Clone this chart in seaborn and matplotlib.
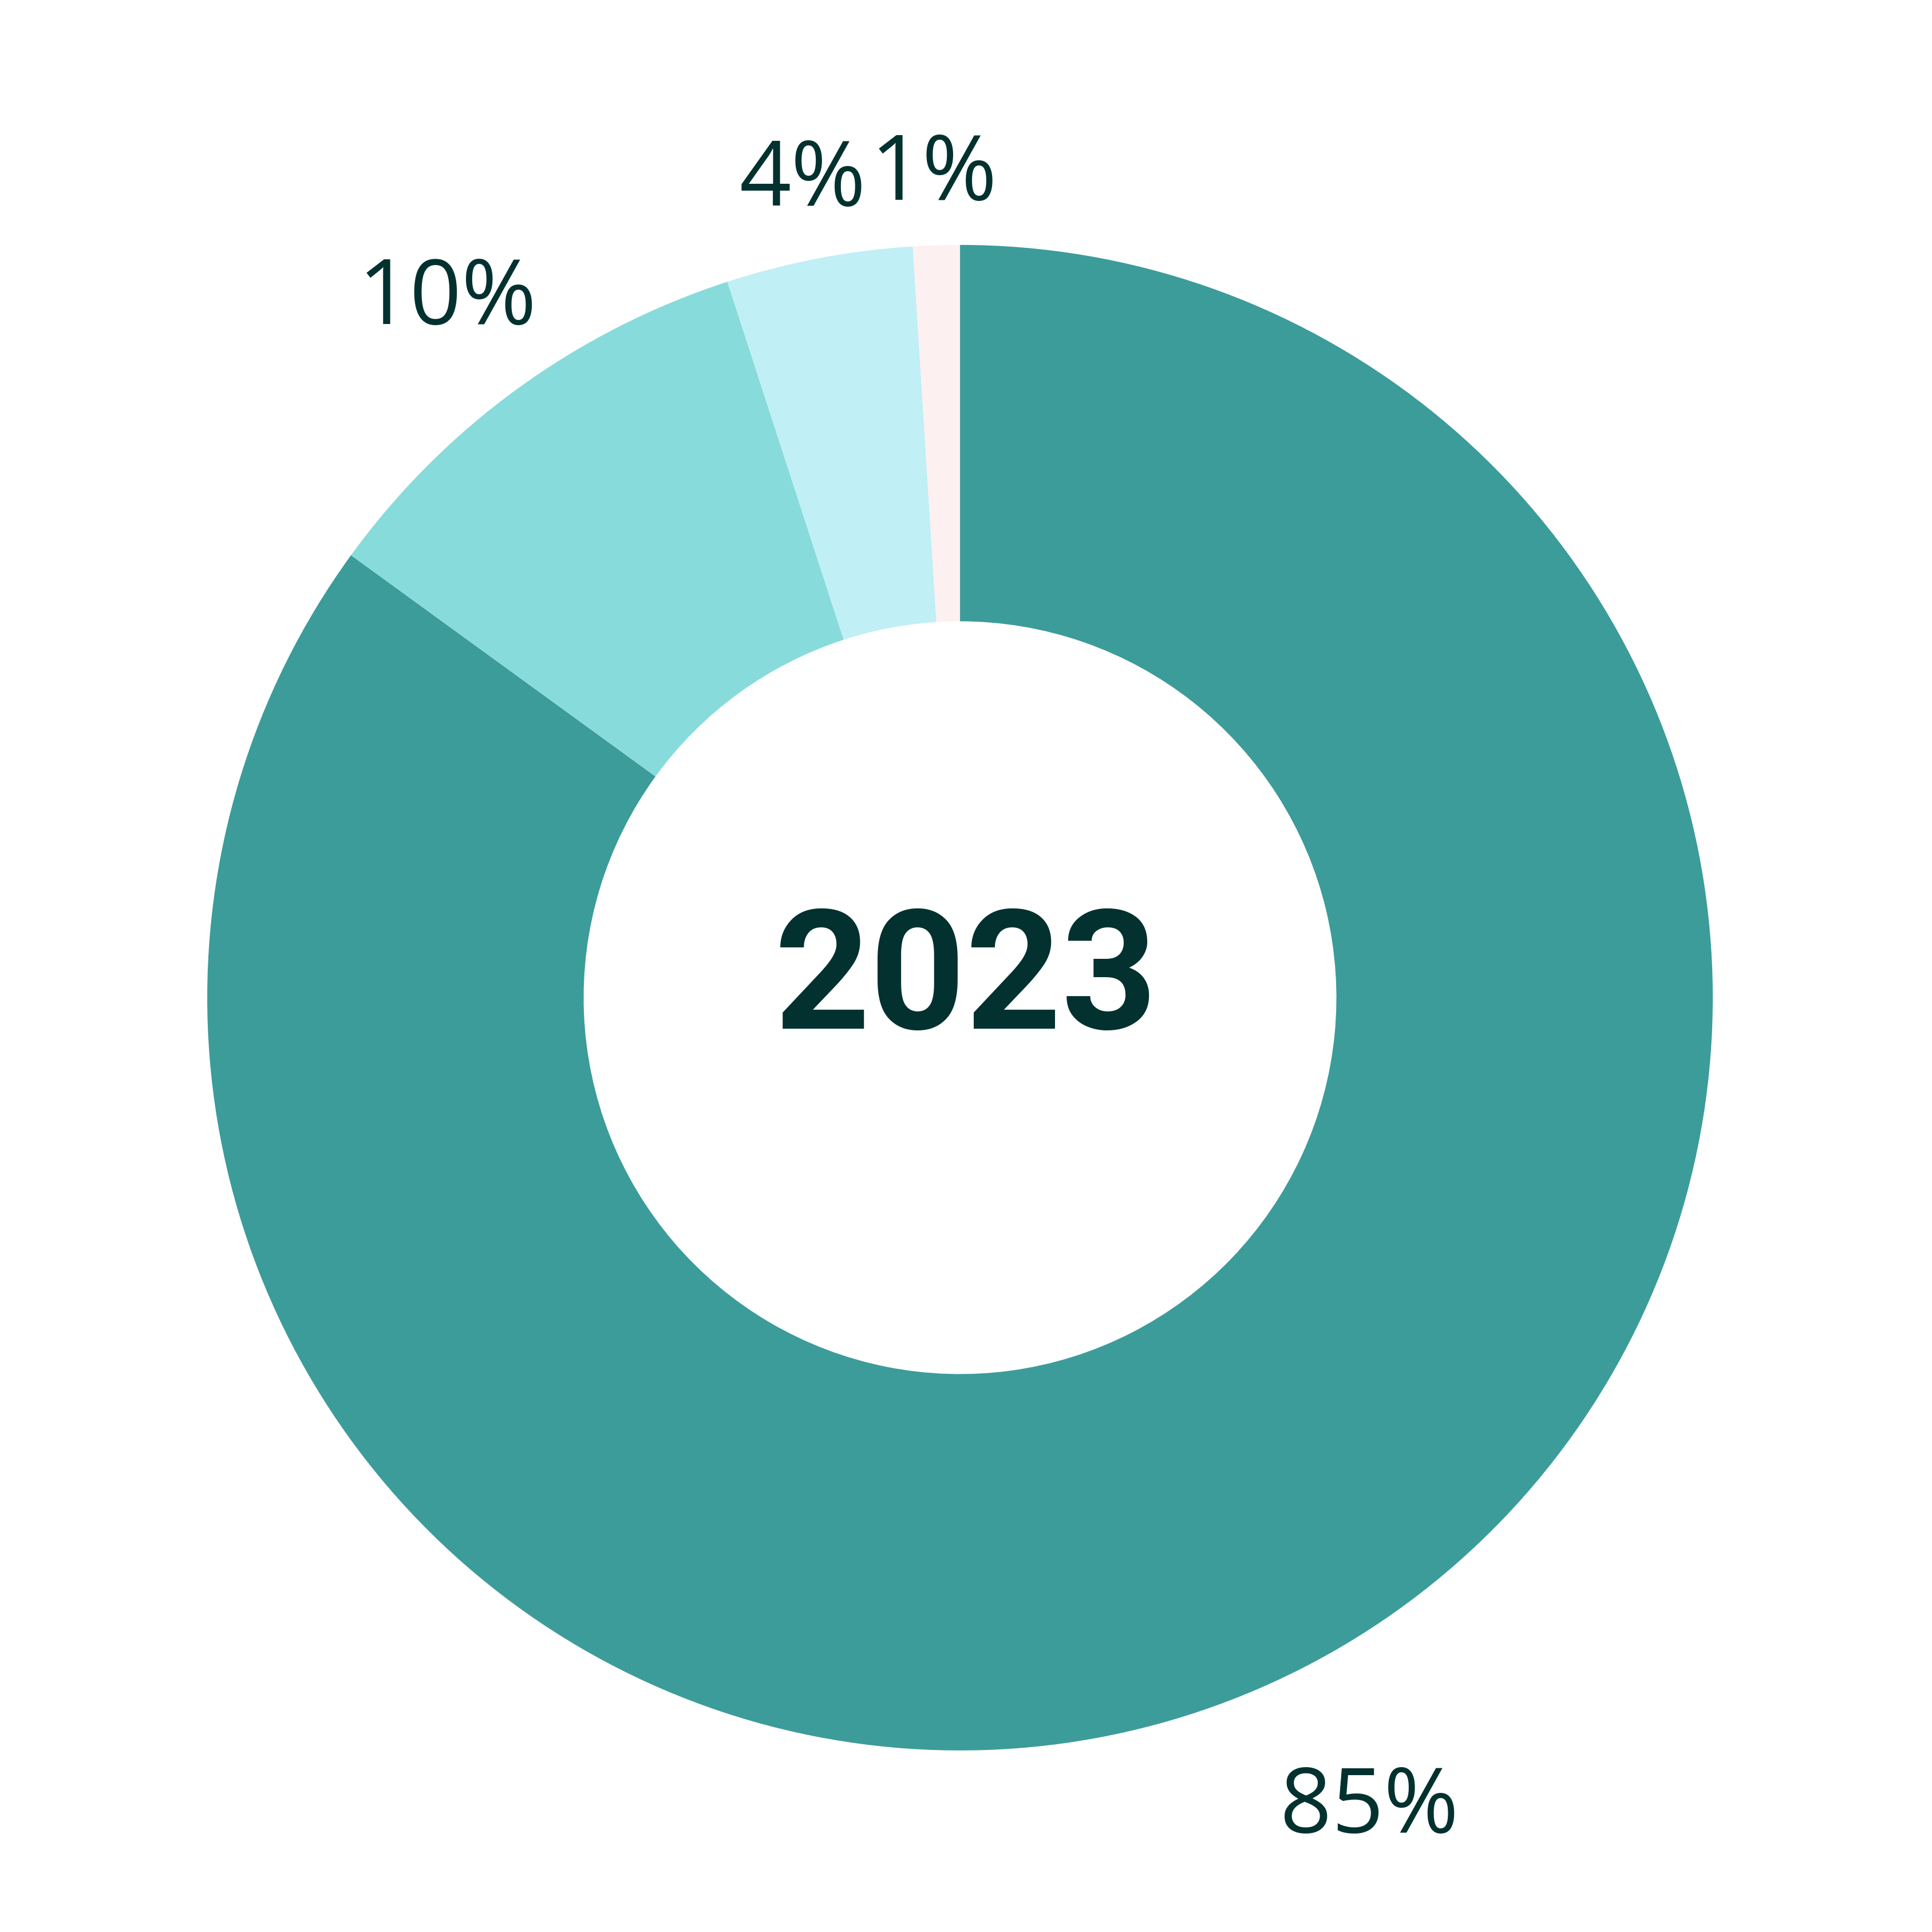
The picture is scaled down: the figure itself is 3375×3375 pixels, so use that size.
"""
Donut chart: 2023 share split (85 / 10 / 4 / 1 %).
"""

import numpy as np
import matplotlib
matplotlib.use('Agg')
import matplotlib.pyplot as plt
import seaborn as sns

# Data
labels = ['85%', '10%', '4%', '1%']
shares = [85, 10, 4, 1]
colors = ['#3c9c9a', '#88dbdb', '#c0eff5', '#fcf0f0']
center_label = '2023'

# Label distance from the centre (outer radius = 1)
label_radius = [1.197, 1.159, 1.115, 1.103]
CAP_HALF = 0.0426  # half cap height in data units, to centre digits visually

TEXT_COLOR = '#03312f'

sns.set_theme(style='white')
plt.rcParams['font.family'] = ['Open Sans', 'DejaVu Sans']

fig = plt.figure(figsize=(11.25, 11.25), dpi=300)
ax = fig.add_axes([0, 0, 1, 1])

wedges, _ = ax.pie(shares, colors=colors, startangle=90, counterclock=False,
                   radius=1.0, wedgeprops=dict(width=0.5, linewidth=0))

# Percentage labels around the ring
for w, lab, r in zip(wedges, labels, label_radius):
    mid = np.deg2rad((w.theta1 + w.theta2) / 2)
    ax.text(r * np.cos(mid), r * np.sin(mid) - CAP_HALF, lab,
            ha='center', va='baseline', fontsize=38, color=TEXT_COLOR)

# Year in the hole
ax.text(0.008, -0.041, center_label, ha='center', va='baseline',
        fontsize=70, fontweight='bold', color=TEXT_COLOR,
        family=['Roboto', 'DejaVu Sans'])

span = 3375 / 1315
ax.set_xlim(-0.4969 * span, 0.5031 * span)
ax.set_ylim(-0.4836 * span, 0.5164 * span)
ax.set_aspect('equal')
ax.axis('off')

fig.savefig('out.png', dpi=300, facecolor='white')
plt.close(fig)
